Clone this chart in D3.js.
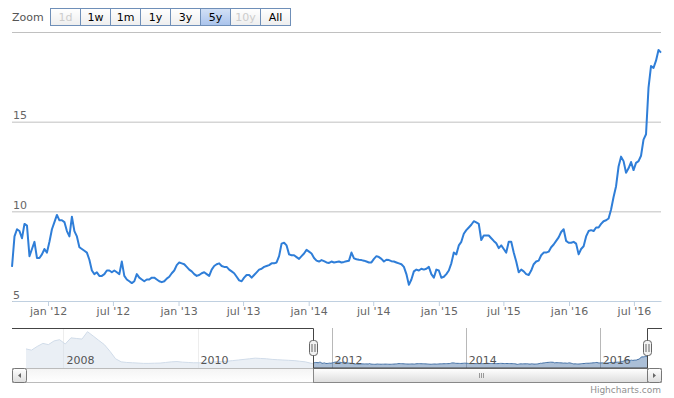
<!DOCTYPE html>
<meta charset="utf-8">
<style>
  body { margin: 0; background: #fff; }
  text { font-family: "DejaVu Sans", Verdana, sans-serif; }
</style>
<body>
<script src="https://d3js.org/d3.v7.min.js"></script>
<script>
// weekly closes, starting 22 sep 2011 (the 5y window shown in the main plot)
var mainStart = "2011-09-22";
var mainStepDays = 7;
var mainValues = [
  6.9, 8.6, 9.0, 8.9, 8.5, 9.3, 9.2, 7.5, 7.9, 8.3,
  7.4, 7.4, 7.6, 7.9, 7.7, 8.3, 9.0, 9.4, 9.8, 9.5,
  9.5, 9.4, 8.9, 8.6, 9.7, 8.9, 8.6, 8.0, 7.9, 7.8,
  7.7, 7.3, 6.7, 6.5, 6.6, 6.4, 6.4, 6.5, 6.7, 6.7,
  6.6, 6.7, 6.6, 6.5, 7.2, 6.4, 6.2, 6.1, 6.0, 6.1,
  6.5, 6.3, 6.2, 6.1, 6.2, 6.2, 6.3, 6.3, 6.2, 6.1,
  6.05, 6.1, 6.25, 6.35, 6.55, 6.7, 7.0, 7.15, 7.1, 7.05,
  6.9, 6.75, 6.65, 6.5, 6.4, 6.45, 6.55, 6.6, 6.5, 6.4,
  6.75, 6.95, 7.05, 7.1, 6.95, 6.9, 6.9, 6.75, 6.65, 6.55,
  6.35, 6.15, 6.1, 6.3, 6.45, 6.45, 6.3, 6.45, 6.6, 6.75,
  6.8, 6.9, 6.95, 7.0, 7.1, 7.1, 7.15, 7.5, 8.2, 8.25,
  8.1, 7.6, 7.55, 7.55, 7.45, 7.35, 7.5, 7.65, 7.85, 7.75,
  7.65, 7.4, 7.25, 7.2, 7.28, 7.22, 7.15, 7.12, 7.2, 7.15,
  7.18, 7.2, 7.15, 7.18, 7.22, 7.25, 7.7, 7.38, 7.33, 7.3,
  7.28, 7.25, 7.2, 7.15, 7.15, 7.35, 7.5, 7.45, 7.35, 7.2,
  7.3, 7.28, 7.22, 7.2, 7.15, 7.1, 7.05, 6.9, 6.5, 5.9,
  6.2, 6.65, 6.75, 6.7, 6.8, 6.75, 6.8, 6.9, 6.5, 6.3,
  6.75, 6.7, 6.3, 6.35, 6.5, 6.7, 7.1, 7.7, 7.6, 8.1,
  8.3, 8.75, 8.95, 9.1, 9.25, 9.45, 9.38, 9.3, 8.4, 8.65,
  8.65, 8.65, 8.5, 8.35, 8.22, 7.95, 8.1, 7.9, 7.7, 8.3,
  8.3, 7.7, 7.2, 6.6, 6.75, 6.65, 6.5, 6.45, 6.7, 7.05,
  7.2, 7.25, 7.55, 7.7, 7.7, 7.75, 8.0, 8.15, 8.35, 8.55,
  8.85, 9.0, 8.35, 8.25, 8.25, 8.3, 8.2, 7.6, 7.9, 8.05,
  8.6, 8.9, 8.95, 8.9, 9.1, 9.1, 9.3, 9.45, 9.5, 9.6,
  10.1, 10.8, 11.4, 12.5, 13.05, 12.8, 12.15, 12.4, 12.75, 12.3,
  12.7, 12.8, 13.1, 14.0, 14.3, 16.9, 18.1, 18.0, 18.4, 19.0,
  18.85
];

// older monthly history, only visible in the navigator
var histStart = "2007-06-11";
var histValues = [
  31, 29, 35, 40, 38, 44, 46, 39, 49, 48,
  47, 59, 52, 45, 38, 27, 15, 10, 9, 8.5,
  8, 7.5, 7.5, 7.8, 8, 9, 10, 10.5, 9.5, 9,
  8.5, 8.5, 9, 9.5, 10, 10.5, 11, 12, 13, 14,
  15, 16, 15.5, 15, 14, 13.5, 13, 12.5, 12, 11,
  10
];

var yTicks = [5, 10, 15, 20];
var navYears = [2008, 2010, 2012, 2014, 2016];
var zoomButtons = ["1d", "1w", "1m", "1y", "3y", "5y", "10y", "All"];
var disabledButtons = ["1d", "10y"];
var selectedButton = "5y";

var width = 674, height = 398;
var plotLeft = 12, plotRight = 661, plotTop = 32, plotBottom = 301;
var navTop = 328, navBottom = 368, scrollBottom = 382;

var parse = d3.timeParse("%Y-%m-%d");
var main = mainValues.map(function(v, i) {
  return {date: d3.timeDay.offset(parse(mainStart), i * mainStepDays), value: v};
});
var hist = histValues.map(function(v, i) {
  return {date: d3.timeMonth.offset(parse(histStart), i), value: v};
});
var nav = hist.concat(main);

var svg = d3.select("body").append("svg")
    .attr("width", width)
    .attr("height", height);

var defs = svg.append("defs");
function grad(id, c1, c2) {
  var g = defs.append("linearGradient").attr("id", id)
      .attr("x1", 0).attr("y1", 0).attr("x2", 0).attr("y2", 1);
  g.append("stop").attr("offset", "0%").attr("stop-color", c1);
  g.append("stop").attr("offset", "100%").attr("stop-color", c2);
}
grad("btn", "#ffffff", "#eeeeee");
grad("btnSel", "#d3e1f6", "#a9c3ec");
grad("track", "#f4f4f4", "#ffffff");
grad("bar", "#ffffff", "#dddddd");

// ---------- main plot ----------
var x = d3.scaleTime()
    .domain(d3.extent(main, function(d) { return d.date; }))
    .range([plotLeft, plotRight]);

var y = d3.scaleLinear()
    .domain([5, 20])
    .range([plotBottom, plotTop]);

var grid = svg.append("g")
    .attr("transform", "translate(" + plotLeft + ",0)")
    .call(d3.axisRight(y)
      .tickValues(yTicks)
      .tickSize(plotRight - plotLeft)
      .tickFormat(function(d) { return d === 20 ? "" : d; }));
grid.select(".domain").remove();
grid.selectAll("line").attr("stroke", "#c0c0c0");
grid.selectAll("text")
    .attr("x", 1)
    .attr("dy", "-3px")
    .attr("text-anchor", "start")
    .style("font-size", "11px")
    .attr("fill", "#666");

var xTicks = d3.timeMonth.every(6).range(x.domain()[0], x.domain()[1]);
var fmt = d3.timeFormat("%b '%y");
var xAxis = svg.append("g")
    .attr("transform", "translate(0," + plotBottom + ")")
    .call(d3.axisBottom(x)
      .tickValues(xTicks)
      .tickSize(5)
      .tickSizeOuter(0)
      .tickPadding(1)
      .tickFormat(function(d) { return fmt(d).toLowerCase(); }));
xAxis.select(".domain").attr("stroke", "#c0d0e0");
xAxis.selectAll("line").attr("stroke", "#c0d0e0");
xAxis.selectAll("text").style("font-size", "11px").attr("fill", "#666");

var line = d3.line()
    .x(function(d) { return x(d.date); })
    .y(function(d) { return y(d.value); });

svg.append("path")
    .datum(main)
    .attr("d", line)
    .attr("fill", "none")
    .attr("stroke", "#2f7ed8")
    .attr("stroke-width", 2)
    .attr("stroke-linejoin", "round");

// ---------- range selector ----------
svg.append("text")
    .attr("x", plotLeft)
    .attr("y", 21)
    .style("font-size", "11px")
    .attr("fill", "#555")
    .text("Zoom");

var btn = svg.selectAll(".btn")
    .data(zoomButtons)
    .enter().append("g")
    .attr("class", "btn")
    .attr("transform", function(d, i) { return "translate(" + (50.5 + i * 30) + ",8.5)"; });
btn.append("rect")
    .attr("width", 30)
    .attr("height", 17)
    .attr("fill", function(d) { return d === selectedButton ? "url(#btnSel)" : "url(#btn)"; })
    .attr("stroke", "#6f8fb8");
btn.append("text")
    .attr("x", 15)
    .attr("y", 12.5)
    .attr("text-anchor", "middle")
    .style("font-size", "11px")
    .attr("fill", function(d) { return disabledButtons.indexOf(d) >= 0 ? "#cccccc" : "#000"; })
    .text(function(d) { return d; });

// ---------- navigator ----------
var navX = d3.scaleTime()
    .domain(d3.extent(nav, function(d) { return d.date; }))
    .range([26, 647]);
var navY = d3.scaleLinear()
    .domain([0, 65])
    .range([navBottom, navTop]);

var yearDates = navYears.map(function(yr) { return new Date(yr, 0, 1); });

svg.append("g").selectAll("line")
    .data(yearDates)
    .enter().append("line")
    .attr("x1", function(d) { return Math.round(navX(d)) + 0.5; })
    .attr("x2", function(d) { return Math.round(navX(d)) + 0.5; })
    .attr("y1", navTop)
    .attr("y2", navBottom)
    .attr("stroke", "#b8b8b8");

var area = d3.area()
    .x(function(d) { return navX(d.date); })
    .y0(navBottom)
    .y1(function(d) { return navY(d.value); });

svg.append("path")
    .datum(nav)
    .attr("d", area)
    .attr("fill", "#4572a7")
    .attr("fill-opacity", 0.45);
svg.append("path")
    .datum(nav)
    .attr("d", d3.line()
      .x(function(d) { return navX(d.date); })
      .y(function(d) { return navY(d.value); }))
    .attr("fill", "none")
    .attr("stroke", "#4572a7")
    .attr("stroke-width", 1);

var zMin = Math.round(navX(x.domain()[0])) + 0.5;
var zMax = Math.round(navX(x.domain()[1])) + 0.5;

// white mask over the parts outside the zoomed range
svg.append("rect")
    .attr("x", plotLeft).attr("y", navTop)
    .attr("width", zMin - plotLeft).attr("height", navBottom - navTop)
    .attr("fill", "#fff").attr("fill-opacity", 0.75);
svg.append("rect")
    .attr("x", zMax).attr("y", navTop)
    .attr("width", plotRight - zMax).attr("height", navBottom - navTop)
    .attr("fill", "#fff").attr("fill-opacity", 0.75);

svg.append("g").selectAll("text")
    .data(yearDates)
    .enter().append("text")
    .attr("x", function(d) { return navX(d) + 3; })
    .attr("y", 364)
    .style("font-size", "11px")
    .attr("fill", "#555")
    .text(function(d) { return d.getFullYear(); });

// ---------- scrollbar ----------
svg.append("rect")
    .attr("x", plotLeft + 0.5).attr("y", navBottom + 0.5)
    .attr("width", plotRight - plotLeft).attr("height", scrollBottom - navBottom)
    .attr("fill", "url(#track)").attr("stroke", "#bbb");
svg.append("rect")
    .attr("x", zMin).attr("y", navBottom + 0.5)
    .attr("width", zMax - zMin).attr("height", scrollBottom - navBottom)
    .attr("fill", "url(#bar)").attr("stroke", "#888");
var gripX = Math.round((zMin + zMax) / 2);
[-2, 0, 2].forEach(function(o) {
  svg.append("line")
      .attr("x1", gripX + o + 0.5).attr("x2", gripX + o + 0.5)
      .attr("y1", 373).attr("y2", 378)
      .attr("stroke", "#999");
});
[[plotLeft, -1], [plotRight - 14, 1]].forEach(function(b) {
  svg.append("rect")
      .attr("x", b[0] + 0.5).attr("y", navBottom + 0.5)
      .attr("width", 14).attr("height", scrollBottom - navBottom)
      .attr("rx", 2)
      .attr("fill", "url(#bar)").attr("stroke", "#777");
  var cx = b[0] + 7.5, cy = navBottom + 7.5;
  svg.append("path")
      .attr("d", b[1] < 0
        ? "M" + (cx + 1.5) + "," + (cy - 2.5) + "L" + (cx - 1.5) + "," + cy + "L" + (cx + 1.5) + "," + (cy + 2.5) + "Z"
        : "M" + (cx - 1.5) + "," + (cy - 2.5) + "L" + (cx + 1.5) + "," + cy + "L" + (cx - 1.5) + "," + (cy + 2.5) + "Z")
      .attr("fill", "#666");
});

// outline and handles
svg.append("path")
    .attr("d", "M" + plotLeft + "," + (navTop + 0.5) + "H" + zMin + "V" + navBottom +
      "H" + zMax + "V" + (navTop + 0.5) + "H" + (plotRight + 1))
    .attr("fill", "none")
    .attr("stroke", "#444");

[zMin, zMax].forEach(function(hx) {
  svg.append("rect")
      .attr("x", hx - 4).attr("y", 340.5)
      .attr("width", 8).attr("height", 15)
      .attr("rx", 3)
      .attr("fill", "#f2f2f2").attr("stroke", "#666");
  svg.append("path")
      .attr("d", "M" + (hx - 1.5) + ",344V352M" + (hx + 1.5) + ",344V352")
      .attr("stroke", "#666");
});

// credits
svg.append("text")
    .attr("x", plotRight)
    .attr("y", 393)
    .attr("text-anchor", "end")
    .style("font-size", "9px")
    .attr("fill", "#909090")
    .text("Highcharts.com");
</script>
</body>
</html>
